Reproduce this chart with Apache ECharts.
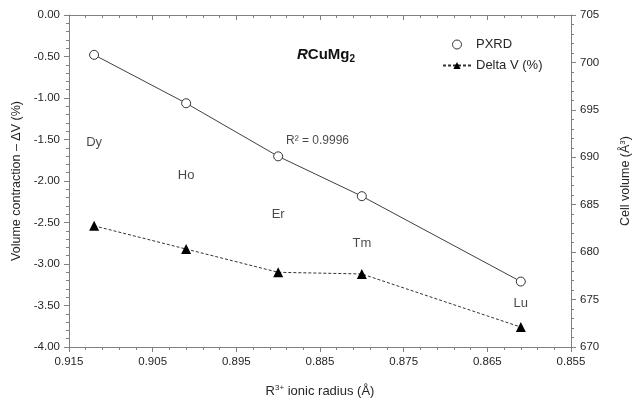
<!DOCTYPE html>
<html>
<head>
<meta charset="utf-8">
<script src="https://cdn.jsdelivr.net/npm/echarts@6/dist/echarts.min.js"></script>
<style>
html,body{margin:0;padding:0;background:#fff;}
#chart{width:634px;height:404px;}
</style>
</head>
<body>
<div id="chart"></div>
<script>
// ---- data ----
const elements = ['Dy', 'Ho', 'Er', 'Tm', 'Lu'];
const ionicRadius = [0.912, 0.901, 0.890, 0.880, 0.861];
const cellVolume = [700.8, 695.7, 690.1, 685.9, 676.9];   // PXRD, right axis (Å^3)
const deltaV = [-2.54, -2.82, -3.10, -3.12, -3.76];       // Delta V (%), left axis
const elementLabelY = [-1.54, -1.93, -2.40, -2.75, -3.48]; // label anchor heights (left axis)
const r2Text = 'R² = 0.9996';
const r2Pos = [0.8853, -1.52];

const xTicks = { min: 0.855, max: 0.915, interval: 0.01 };
const yLeftTicks = { min: -4, max: 0, interval: 0.5 };
const yRightTicks = { min: 670, max: 705, interval: 5 };

const FONT = '"Liberation Sans", Arial, sans-serif';
const axisColor = '#808080';
const textColor = '#262626';

const chart = echarts.init(document.getElementById('chart'), null, { renderer: 'canvas' });

const xCommon = {
  type: 'value',
  inverse: true,
  min: xTicks.min, max: xTicks.max, interval: xTicks.interval,
  splitLine: { show: false },
  axisLine: { show: true, onZero: false, lineStyle: { color: axisColor, width: 1 } },
  minorTick: { show: true, splitNumber: 5, length: 3, lineStyle: { color: axisColor } },
};

const option = {
  animation: false,
  backgroundColor: '#ffffff',
  textStyle: { fontFamily: FONT },
  grid: { left: 69, right: 63, top: 15, bottom: 57, containLabel: false, outerBoundsMode: 'none' },
  title: {
    text: '{i|R}{b|CuMg}{s|2}',
    left: 292, top: 41,
    textStyle: {
      rich: {
        i: { fontFamily: FONT, fontSize: 15, fontWeight: 'bold', fontStyle: 'italic', color: '#111' },
        b: { fontFamily: FONT, fontSize: 15, fontWeight: 'bold', color: '#111' },
        s: { fontFamily: FONT, fontSize: 10, fontWeight: 'bold', color: '#111', verticalAlign: 'bottom', padding: [8, 0, 0, 0] }
      }
    }
  },
  legend: {
    orient: 'vertical',
    left: 437, top: 33,
    itemGap: 8,
    itemWidth: 28, itemHeight: 9,
    textStyle: { fontFamily: FONT, fontSize: 13, color: textColor },
    data: [
      { name: 'PXRD', icon: 'circle', itemStyle: { color: '#fff', borderColor: '#333', borderWidth: 1 } },
      { name: 'Delta V (%)' }
    ]
  },
  xAxis: [
    Object.assign({}, xCommon, {
      position: 'bottom',
      name: 'R{sup|3+} ionic radius (Å)',
      nameLocation: 'middle',
      nameGap: 37,
      nameTextStyle: { fontFamily: FONT, fontSize: 13, color: textColor,
        rich: { sup: { fontFamily: FONT, fontSize: 8, color: textColor, verticalAlign: 'top', padding: [0, 0, 6, 0] } } },
      axisTick: { show: true, inside: false, length: 5, lineStyle: { color: axisColor } },
      axisLabel: { show: true, margin: 9, fontSize: 11.5, color: textColor, fontFamily: FONT,
        formatter: v => v.toFixed(3) }
    }),
    Object.assign({}, xCommon, {
      position: 'top',
      axisTick: { show: true, inside: true, length: 5, lineStyle: { color: axisColor } },
      axisLabel: { show: false }
    })
  ],
  yAxis: [
    {
      type: 'value', position: 'left',
      min: yLeftTicks.min, max: yLeftTicks.max, interval: yLeftTicks.interval,
      name: 'Volume contraction – ΔV (%)',
      nameLocation: 'middle', nameGap: 38, nameRotate: 90,
      nameTextStyle: { fontFamily: FONT, fontSize: 12.5, color: textColor },
      splitLine: { show: false },
      axisLine: { show: true, onZero: false, lineStyle: { color: axisColor } },
      axisTick: { show: true, inside: false, length: 5, lineStyle: { color: axisColor } },
      minorTick: { show: true, splitNumber: 5, length: 3, lineStyle: { color: axisColor } },
      axisLabel: { margin: 9, fontSize: 11.5, color: textColor, fontFamily: FONT, formatter: v => v.toFixed(2) }
    },
    {
      type: 'value', position: 'right',
      min: yRightTicks.min, max: yRightTicks.max, interval: yRightTicks.interval,
      name: 'Cell volume (Å{sup|3})',
      nameLocation: 'middle', nameGap: 48, nameRotate: 90,
      nameTextStyle: { fontFamily: FONT, fontSize: 12.5, color: textColor,
        rich: { sup: { fontFamily: FONT, fontSize: 8, color: textColor, verticalAlign: 'top', padding: [0, 0, 6, 0] } } },
      splitLine: { show: false },
      axisLine: { show: true, onZero: false, lineStyle: { color: axisColor } },
      axisTick: { show: true, inside: false, length: 5, lineStyle: { color: axisColor } },
      minorTick: { show: true, splitNumber: 5, length: 3, lineStyle: { color: axisColor } },
      axisLabel: { margin: 9, fontSize: 11.5, color: textColor, fontFamily: FONT }
    }
  ],
  series: [
    {
      name: 'PXRD', type: 'line', xAxisIndex: 0, yAxisIndex: 1,
      data: ionicRadius.map((x, i) => [x, cellVolume[i]]),
      symbol: 'circle', symbolSize: 9,
      itemStyle: { color: '#fff', borderColor: '#333', borderWidth: 1 },
      lineStyle: { color: '#404040', width: 1, type: 'solid' },
      z: 3
    },
    {
      name: 'Delta V (%)', type: 'line', xAxisIndex: 0, yAxisIndex: 0,
      data: ionicRadius.map((x, i) => [x, deltaV[i]]),
      symbol: 'triangle', symbolSize: 10,
      itemStyle: { color: '#000' },
      lineStyle: { color: '#333', width: 1, type: [3, 2] },
      z: 3
    },
    {
      name: 'labels', type: 'scatter', xAxisIndex: 0, yAxisIndex: 0,
      silent: true, symbolSize: 0,
      data: ionicRadius.map((x, i) => ({ name: elements[i], value: [x, elementLabelY[i]] }))
        .concat([{ name: r2Text, value: r2Pos, label: { fontSize: 12 } }]),
      label: { show: true, position: 'inside', formatter: p => p.name,
        fontFamily: FONT, fontSize: 13, color: '#1a1a1a' }
    }
  ]
};
chart.setOption(option);
</script>
</body>
</html>
